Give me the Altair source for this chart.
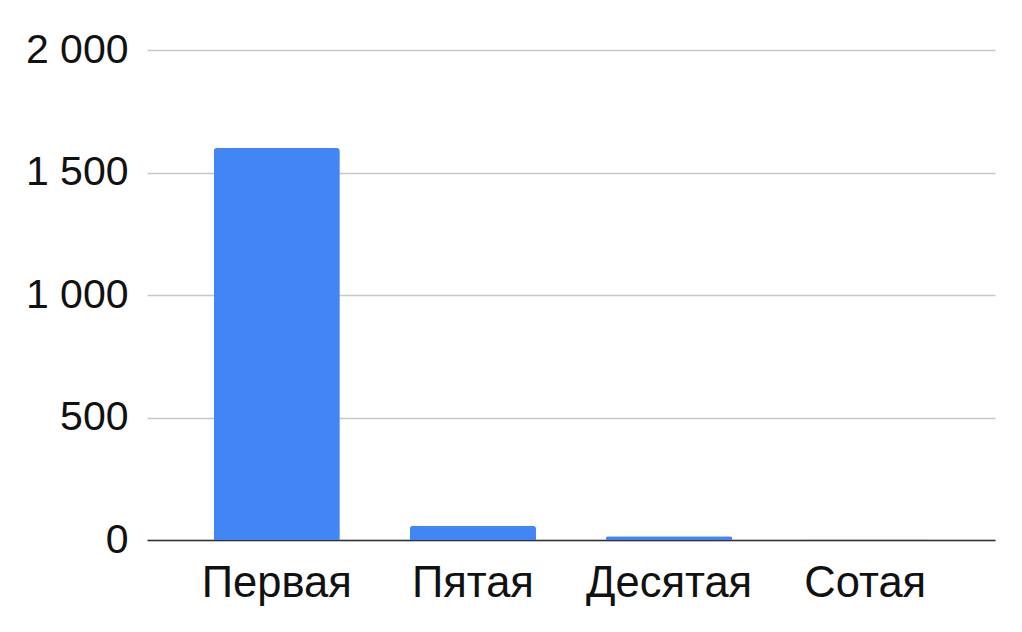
import altair as alt
import pandas as pd

categories = ["Первая", "Пятая", "Десятая", "Сотая"]
values = [1600, 58, 15, 2]

df = pd.DataFrame({"cat": categories, "val": values})

chart = alt.Chart(df).mark_bar(
    color="#4285F4", cornerRadiusTopLeft=3, cornerRadiusTopRight=3
).encode(
    x=alt.X("cat:N", sort=categories, title=None,
            scale=alt.Scale(paddingInner=0.357, paddingOuter=0.34),
            axis=alt.Axis(labelAngle=0, labelFontSize=43.5, labelFont="Liberation Sans",
                          labelColor="#111", ticks=False, domainColor="#333",
                          domainWidth=1.5, labelBaseline="alphabetic", labelPadding=56)),
    y=alt.Y("val:Q", title=None,
            scale=alt.Scale(domain=[0, 2000]),
            axis=alt.Axis(values=[0, 500, 1000, 1500, 2000], labelExpr="replace(format(datum.value, ','), ',', ' ')",
                          labelFontSize=41, labelFont="Liberation Sans", labelColor="#111",
                          ticks=False, domain=False, gridColor="#c8c8c8", gridWidth=1.3,
                          labelPadding=19)),
).properties(
    width=848, height=490,
    autosize=alt.AutoSizeParams(type="none"),
    padding={"left": 139, "top": 42, "right": 19, "bottom": 80},
).configure_view(stroke=None)

chart.save("out.html", embed_options={"renderer": "svg", "actions": False})
